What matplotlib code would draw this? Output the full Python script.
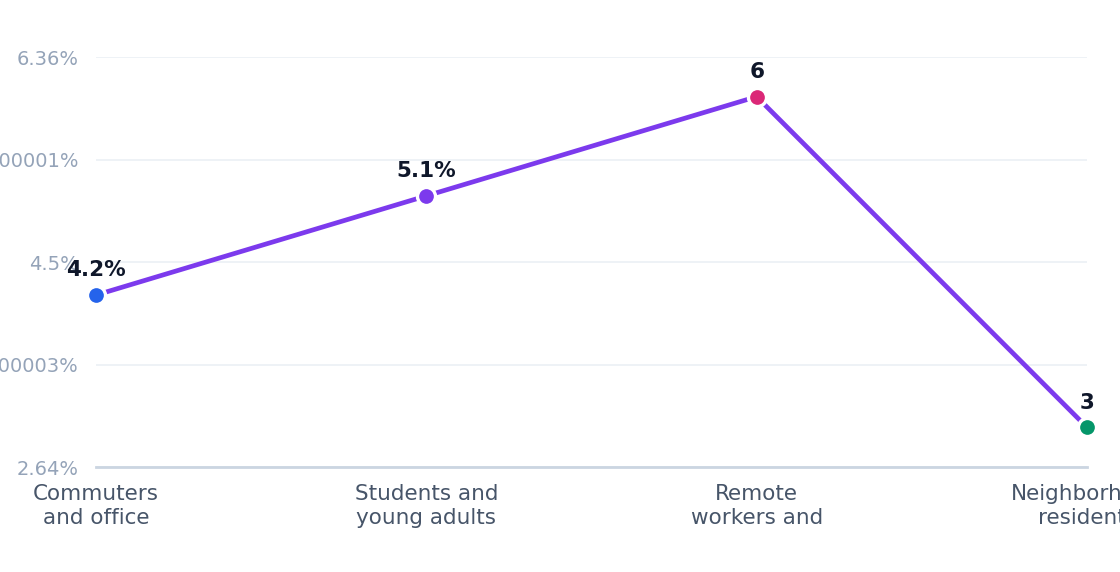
import matplotlib
matplotlib.use("Agg")
import matplotlib.pyplot as plt

# data
categories = ["Commuters\nand office", "Students and\nyoung adults",
              "Remote\nworkers and", "Neighborhood\nresidents"]
values = [4.2, 5.1, 6.0, 3.0]
point_labels = ["4.2%", "5.1%", "6", "3"]
point_colors = ["#2563eb", "#7c3aed", "#db2777", "#059669"]
y_ticks = [2.64, 3.5700000000000003, 4.5, 5.430000000000001, 6.36]

fig = plt.figure(figsize=(11.2, 5.72), dpi=100)
ax = fig.add_axes([96 / 1120, 105 / 572, 991 / 1120, 410 / 572])

x = list(range(len(categories)))
ax.plot(x, values, color="#7c3aed", lw=3.4, zorder=3, solid_capstyle="butt")
for xi, v, c, lab in zip(x, values, point_colors, point_labels):
    ax.plot(xi, v, "o", ms=13, mfc=c, mec="white", mew=2.4, zorder=4, clip_on=False)
    ax.annotate(lab, (xi, v), xytext=(0, 13.5), textcoords="offset points",
                ha="center", va="baseline", fontsize=15.5, fontweight="bold",
                color="#0f172a", zorder=5, annotation_clip=False)

ax.set_xlim(0, len(categories) - 1)
ax.set_ylim(y_ticks[0], y_ticks[-1])
ax.set_yticks(y_ticks)
ax.set_yticklabels([f"{v}%" for v in y_ticks])
ax.set_xticks(x)
ax.set_xticklabels(categories)

ax.grid(axis="y", color="#eef2f6", lw=1.4, zorder=0)
for s in ["top", "right", "left"]:
    ax.spines[s].set_visible(False)
ax.spines["bottom"].set_color("#cbd5e1")
ax.spines["bottom"].set_linewidth(2)
ax.spines["bottom"].set_zorder(2)

ax.tick_params(axis="y", length=0, pad=12.5, labelsize=14, labelcolor="#94a3b8")
ax.tick_params(axis="x", length=0, pad=12, labelsize=15.5, labelcolor="#475569")
for t in ax.get_xticklabels():
    t.set_linespacing(1.3)

fig.savefig("out.png", dpi=100, facecolor="white")
